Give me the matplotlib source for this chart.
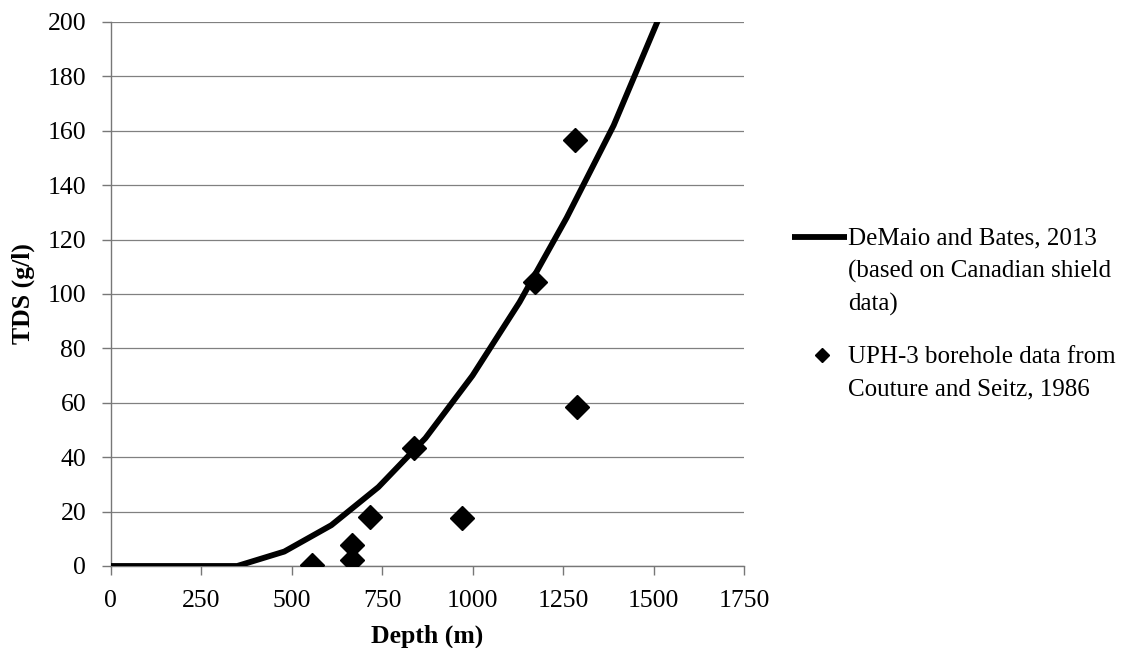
import matplotlib
matplotlib.use("Agg")
import matplotlib.pyplot as plt
from matplotlib.lines import Line2D

# DeMaio and Bates (2013) curve
curve_depth = [0, 350, 480, 610, 740, 870, 1000, 1130, 1260, 1390, 1520]
curve_tds = [0, 0, 5.3, 15, 29, 47, 70, 97, 128, 162, 203]

# UPH-3 borehole data
bh_depth = [557, 668, 668, 717, 839, 970, 1173, 1284, 1289]
bh_tds = [0.5, 2.1, 7.6, 18.1, 43.3, 17.7, 104.4, 156.7, 58.3]

xticks = [0, 250, 500, 750, 1000, 1250, 1500, 1750]
yticks = list(range(0, 201, 20))

curve_label = "DeMaio and Bates, 2013\n(based on Canadian shield\ndata)"
bh_label = "UPH-3 borehole data from\nCouture and Seitz, 1986"

plt.rcParams["font.family"] = ["Liberation Serif", "DejaVu Serif"]
FS = 18.5
LFS = 18

W, H = 1141, 648
fig = plt.figure(figsize=(W / 100, H / 100), dpi=100)
ax = fig.add_axes([110.5 / W, 1 - 566 / H, 633.5 / W, 544 / H])

ax.plot(curve_depth, curve_tds, color="black", lw=4.2, solid_capstyle="butt", zorder=3)
ax.plot(bh_depth, bh_tds, ls="none", marker="D", ms=12, color="black", zorder=4)

ax.set_xlim(0, 1750)
ax.set_ylim(0, 200)
ax.set_xticks(xticks)
ax.set_yticks(yticks)
ax.tick_params(axis="both", labelsize=FS, color="#777777", length=6.5, width=1, pad=11)
ax.yaxis.grid(True, color="#808080", lw=0.9)
ax.set_axisbelow(True)
for s in ("top", "right"):
    ax.spines[s].set_visible(False)
for s in ("left", "bottom"):
    ax.spines[s].set_color("#777777")
    ax.spines[s].set_linewidth(1)

ax.set_xlabel("Depth (m)", fontsize=FS, fontweight="bold", labelpad=9)
ax.set_ylabel("TDS (g/l)", fontsize=FS, fontweight="bold", labelpad=9)

# legend drawn by hand so the handles sit on the first text line
fig.add_artist(Line2D([792 / W, 847 / W], [1 - 237 / H] * 2, color="black", lw=4.2,
                      solid_capstyle="butt"))
fig.text(848 / W, 1 - 227 / H, curve_label, fontsize=LFS, va="top", ha="left",
         linespacing=1.6)
fig.add_artist(Line2D([822 / W], [1 - 355 / H], ls="none", marker="D", ms=7.5, color="black"))
fig.text(848 / W, 1 - 346 / H, bh_label, fontsize=LFS, va="top", ha="left",
         linespacing=1.6)

fig.savefig("out.png", dpi=100)
